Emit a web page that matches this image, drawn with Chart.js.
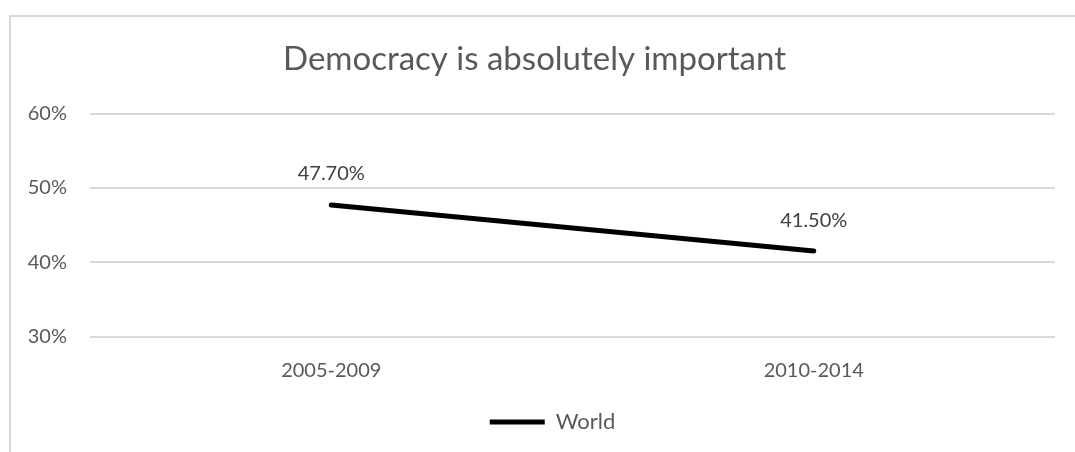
<!DOCTYPE html>
<html>
<head>
<meta charset="utf-8">
<script src="https://cdn.jsdelivr.net/npm/chart.js@4/dist/chart.umd.min.js"></script>
<style>
  html, body { margin: 0; padding: 0; background: #fff; overflow: hidden; }
  #wrap { position: relative; width: 1075px; height: 452px; }
  #frame {
    position: absolute; left: 9px; top: 15px; width: 1200px; height: 600px;
    border-left: 2px solid #d9d9d9; border-top: 2px solid #d9d9d9;
  }
  canvas { position: absolute; left: 0; top: 0; }
</style>
</head>
<body>
<div id="wrap">
  <div id="frame"></div>
  <canvas id="chart" width="1075" height="452"></canvas>
</div>
<script>
const periods = ['2005-2009', '2010-2014'];
const world = [47.7, 41.5];
const yTicks = [30, 40, 50, 60];

const FONT = 'Lato, "Open Sans", sans-serif';
const GREY = '#595959';

// writes each value above its point, e.g. "47.70%"
const valueLabels = {
  id: 'valueLabels',
  afterDatasetsDraw(chart) {
    const ctx = chart.ctx;
    ctx.save();
    ctx.font = '20px ' + FONT;
    ctx.fillStyle = '#404040';
    ctx.textAlign = 'center';
    ctx.textBaseline = 'middle';
    chart.getDatasetMeta(0).data.forEach((pt, i) => {
      const v = chart.data.datasets[0].data[i];
      ctx.fillText(v.toFixed(2) + '%', pt.x, pt.y - 31);
    });
    ctx.restore();
  }
};

// nudge title and legend a bit right of the canvas centre
const boxShift = {
  id: 'boxShift',
  afterLayout(chart) {
    chart.legend.left += 25;
    chart.legend.right += 25;
    chart.titleBlock.left += 7;
    chart.titleBlock.right += 7;
  }
};

new Chart(document.getElementById('chart'), {
  type: 'line',
  data: {
    labels: periods,
    datasets: [{
      label: 'World',
      data: world,
      borderColor: '#000',
      backgroundColor: '#000',
      borderWidth: 5,
      borderCapStyle: 'round',
      pointRadius: 0,
      pointStyle: 'line',
      tension: 0
    }]
  },
  options: {
    responsive: false,
    animation: false,
    layout: { padding: { top: 6, right: 20, bottom: 9, left: 0 } },
    plugins: {
      title: {
        display: true,
        text: 'Democracy is absolutely important',
        color: GREY,
        font: { family: FONT, size: 33, weight: 'normal' },
        padding: { top: 34, bottom: 34 }
      },
      legend: {
        position: 'bottom',
        labels: {
          color: GREY,
          font: { family: FONT, size: 22 },
          usePointStyle: true,
          pointStyle: 'line',
          pointStyleWidth: 55,
          padding: 21
        }
      },
      tooltip: { enabled: false }
    },
    scales: {
      x: {
        offset: true,
        grid: { display: false, drawTicks: false },
        border: { display: false },
        ticks: { color: GREY, font: { family: FONT, size: 20 }, padding: 22 },
        afterFit(scale) { scale.height = 53.5; }
      },
      y: {
        min: 30,
        max: 60,
        afterBuildTicks(scale) { scale.ticks = yTicks.map(v => ({ value: v })); },
        grid: { color: '#d9d9d9', lineWidth: 2, drawTicks: false },
        border: { display: false },
        ticks: {
          color: GREY,
          font: { family: FONT, size: 20 },
          padding: 23,
          callback: v => v + '%'
        },
        afterFit(scale) { scale.width = 90; }
      }
    }
  },
  plugins: [valueLabels, boxShift]
});
</script>
</body>
</html>
